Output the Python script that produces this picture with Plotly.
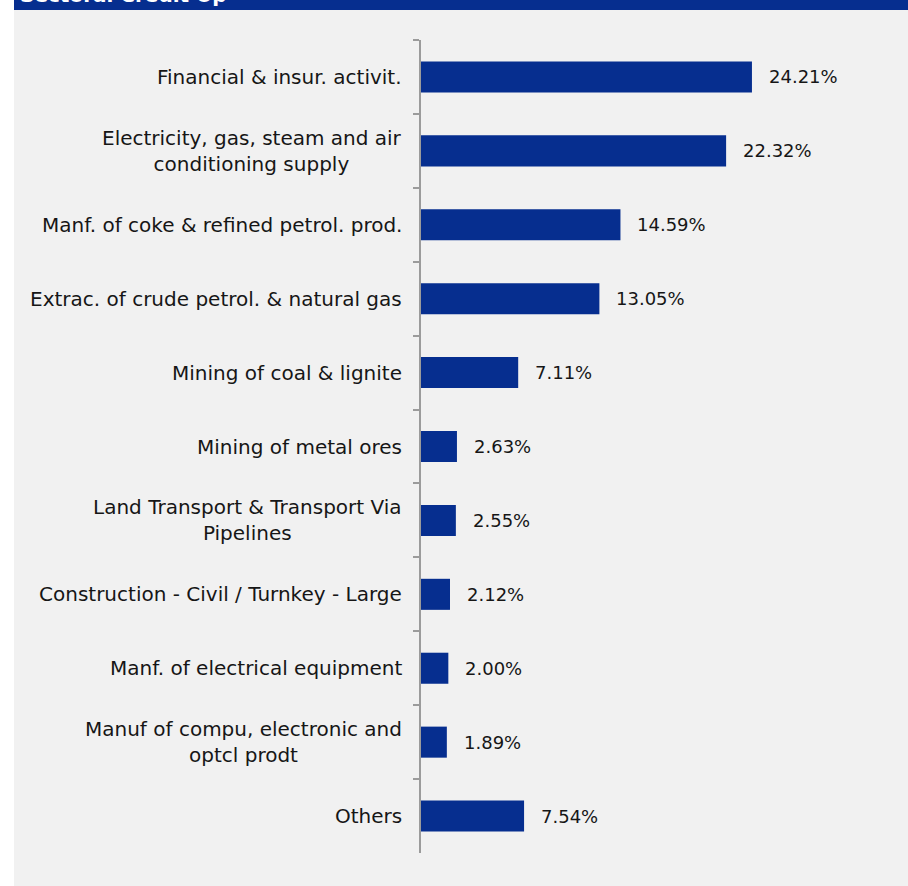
import plotly.graph_objects as go

# Sector shares of credit exposure (%)
sectors = [
    "Financial & insur. activit.",
    "Electricity, gas, steam and air<br>conditioning supply",
    "Manf. of coke & refined petrol. prod.",
    "Extrac. of crude petrol. & natural gas",
    "Mining of coal & lignite",
    "Mining of metal ores",
    "Land Transport & Transport Via<br>Pipelines",
    "Construction - Civil / Turnkey - Large",
    "Manf. of electrical equipment",
    "Manuf of compu, electronic and<br>optcl prodt",
    "Others",
]
shares = [24.21, 22.32, 14.59, 13.05, 7.11, 2.63, 2.55, 2.12, 2.00, 1.89, 7.54]
title_text = "Sectoral Credit Up"

W, H = 908, 886
ML, MR, MT, MB = 421, 28, 40, 33
plot_w = W - ML - MR
plot_h = H - MT - MB
px_per_unit = 13.67

BAR = "#062e8f"
TXT = "#161616"
AXIS = "#9b9b9b"
FONT = "DejaVu Sans"
FS_CAT = 20
FS_VAL = 18


def px_to_paper_x(px):
    return (px - ML) / plot_w


def py_to_paper_y(py):
    return (H - MB - py) / plot_h


fig = go.Figure(
    go.Bar(
        x=shares,
        y=sectors,
        orientation="h",
        marker=dict(color=BAR, line=dict(width=0)),
        hoverinfo="skip",
    )
)

annotations = []
for s, v in zip(sectors, shares):
    annotations.append(dict(
        x=0, xref="paper", y=s, yref="y", text=s, showarrow=False,
        xanchor="right", yanchor="middle", align="center", xshift=-17,
        font=dict(family=FONT, size=FS_CAT, color=TXT),
    ))
    annotations.append(dict(
        x=v, xref="x", y=s, yref="y", text=f"{v:.2f}%", showarrow=False,
        xanchor="left", yanchor="middle", xshift=15,
        font=dict(family=FONT, size=FS_VAL, color=TXT),
    ))

# header band title, mostly above the page edge
annotations.append(dict(
    x=px_to_paper_x(18), xref="paper", y=py_to_paper_y(9), yref="paper",
    text=f"<b>{title_text}</b>", showarrow=False, xanchor="left", yanchor="bottom",
    font=dict(family=FONT, size=20, color="white"),
))

shapes = [
    dict(type="rect", xref="paper", yref="paper", layer="below",
         x0=px_to_paper_x(14), x1=px_to_paper_x(W + 5),
         y0=py_to_paper_y(H + 5), y1=py_to_paper_y(10),
         fillcolor="#f1f1f1", line=dict(width=0)),
    dict(type="rect", xref="paper", yref="paper", layer="below",
         x0=px_to_paper_x(14), x1=px_to_paper_x(W + 5),
         y0=py_to_paper_y(10), y1=py_to_paper_y(-5),
         fillcolor="#062e8f", line=dict(width=0)),
]

fig.update_layout(
    width=W, height=H,
    margin=dict(l=ML, r=MR, t=MT, b=MB),
    paper_bgcolor="white",
    plot_bgcolor="rgba(0,0,0,0)",
    showlegend=False,
    bargap=0.58,
    annotations=annotations,
    shapes=shapes,
    xaxis=dict(range=[0, plot_w / px_per_unit], visible=False, fixedrange=True),
    yaxis=dict(
        autorange="reversed", showticklabels=False, showgrid=False, zeroline=False,
        showline=True, linecolor=AXIS, linewidth=1.5,
        ticks="outside", tickson="boundaries", ticklen=6, tickcolor=AXIS, tickwidth=1.5,
        fixedrange=True,
    ),
)

fig.write_html("out.html")
